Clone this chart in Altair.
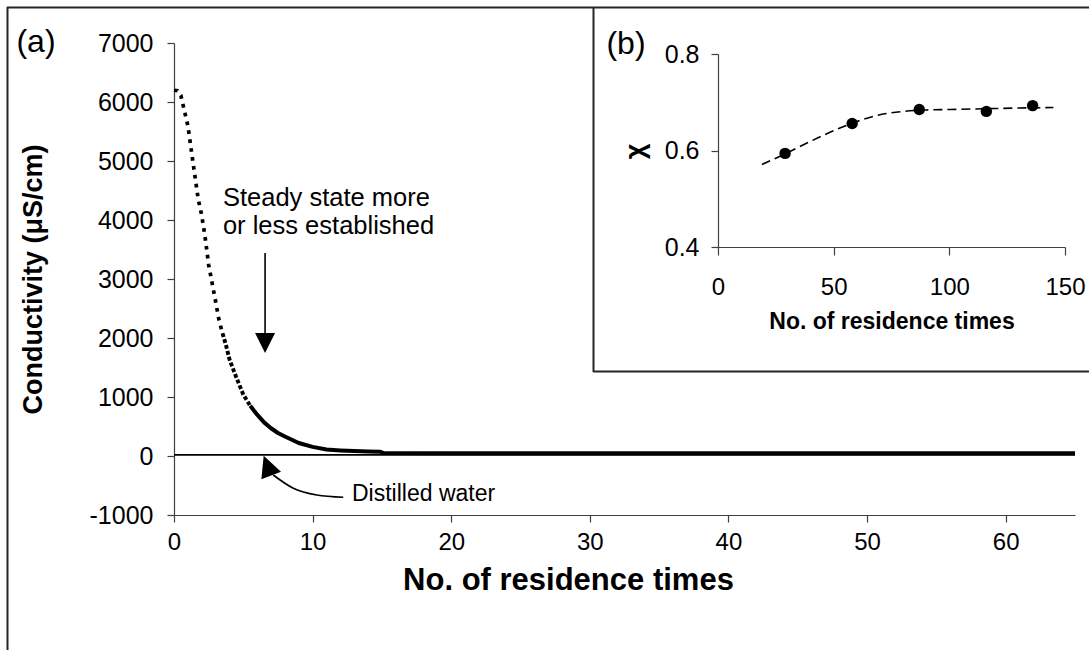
import altair as alt
import pandas as pd

FONT = "Liberation Sans"
INK = "black"
AXIS_GREY = "#404040"

# ---- panel (a): conductivity trace against the number of residence times ----
res_times = [0, 0.25, 0.5, 0.75, 1.0, 1.25, 1.5, 1.75, 2.0, 2.25,
             2.5, 2.75, 3.0, 3.25, 3.5, 3.75, 4.0, 4.5,
             5.0, 5.5, 6.0, 6.5, 7.0, 7.5, 8.0, 9.0, 10.0, 11.0,
             12.0, 13.0, 14.0, 14.9, 15.1,
             20, 30, 40, 50, 60, 65]
conductivity = [6200, 6190, 6110, 5850, 5600, 5180, 4760, 4350, 4080, 3700,
                3240, 2930, 2620, 2300, 2080, 1880, 1640, 1330,
                1040, 850, 700, 570, 470, 390, 330, 220, 155, 110,
                95, 85, 78, 73, 50,
                48, 47, 46, 46, 45, 45]
# on the steep drop the logged samples are far apart and read as dots;
# they crowd together as the decay flattens and finally merge into a line
SPARSE_UNTIL = 3.5
CROWDED_UNTIL = 5.5

# distilled-water reference level
water_times = [0, 65]
water_cond = [20, 20]

x_ticks_a = [0, 10, 20, 30, 40, 50, 60]
y_ticks_a = [-1000, 0, 1000, 2000, 3000, 4000, 5000, 6000, 7000]

# annotations (positions in data units)
steady_lines = ["Steady state more", "or less established"]
steady_pos = (3.53, 4237)
steady_arrow = (6.57, 3440, 2085)        # t, top, bottom
steady_head = (6.57, 1915)
water_label = "Distilled water"
water_label_pos = (12.84, -640)
water_curve_t = [7.16, 8.61, 10.30, 12.21]
water_curve_c = [-322, -547, -661, -700]
water_head = (6.74, -163)

# ---- panel (b): chi against the number of residence times ----
chi_times = [29, 58, 87, 116, 136]
chi_values = [0.594, 0.656, 0.685, 0.681, 0.693]
fit_times = [19, 29, 40, 50, 60, 70, 80, 90, 100, 110, 120, 130, 145]
fit_values = [0.571, 0.593, 0.619, 0.641, 0.660, 0.674, 0.681, 0.684,
              0.685, 0.686, 0.687, 0.688, 0.689]

# ---------------------------------------------------------------------------
W, H = 901, 472

trace = pd.DataFrame({"t": res_times, "c": conductivity})
sparse = trace[trace.t <= SPARSE_UNTIL]
crowded = trace[(trace.t >= SPARSE_UNTIL) & (trace.t <= CROWDED_UNTIL)]
merged = trace[trace.t >= CROWDED_UNTIL]

x_a = alt.X(
    "t:Q",
    scale=alt.Scale(domain=[0, 65], nice=False, zero=False),
    axis=alt.Axis(
        values=x_ticks_a, title="No. of residence times", labelFlush=False,
        labelFontSize=24, titleFontSize=31, titleFontWeight="bold",
        tickSize=7, labelPadding=8, titleX=394, titleY=50, titleBaseline="top",
    ),
)
y_a = alt.Y(
    "c:Q",
    scale=alt.Scale(domain=[-1000, 7000], nice=False, zero=False),
    axis=alt.Axis(
        values=y_ticks_a, title="Conductivity (μS/cm)",
        labelExpr="datum.value < 0 ? '-' + toString(abs(datum.value)) : toString(datum.value)",
        labelFontSize=25, titleFontSize=27, titleFontWeight="bold",
        tickSize=7, labelPadding=14, labelFlush=False,
        titleAngle=270, titleX=-141, titleY=H / 2,
        titleAlign="center", titleBaseline="middle",
    ),
)

water = alt.Chart(pd.DataFrame({"t": water_times, "c": water_cond})).mark_line(
    color=INK, strokeWidth=1.8
).encode(x=x_a, y=y_a)

trace_sparse = alt.Chart(sparse).mark_line(
    color=INK, strokeWidth=3.7, strokeDash=[3.7, 5.3], strokeCap="butt"
).encode(x=x_a, y=y_a)

trace_crowded = alt.Chart(crowded).mark_line(
    color=INK, strokeWidth=3.9, strokeDash=[3.9, 2.2], strokeCap="butt"
).encode(x=x_a, y=y_a)

trace_merged = alt.Chart(merged).mark_line(
    color=INK, strokeWidth=4, strokeJoin="round"
).encode(x=x_a, y=y_a)

steady_txt = alt.Chart(
    pd.DataFrame({"t": [steady_pos[0]], "c": [steady_pos[1]], "s": ["\n".join(steady_lines)]})
).mark_text(
    align="left", baseline="alphabetic", font=FONT, fontSize=25.5, lineHeight=28,
    lineBreak="\n", color=INK
).encode(x=x_a, y=y_a, text="s:N")

steady_line = alt.Chart(
    pd.DataFrame({"t": [steady_arrow[0]], "c": [steady_arrow[1]], "c2": [steady_arrow[2]]})
).mark_rule(color=INK, strokeWidth=1.6).encode(x=x_a, y=y_a, y2="c2:Q")

steady_tip = alt.Chart(
    pd.DataFrame({"t": [steady_head[0]], "c": [steady_head[1]]})
).mark_point(
    shape="M-1,-1L1,-1L0,1Z", filled=True, size=400, color=INK, opacity=1
).encode(x=x_a, y=y_a)

water_txt = alt.Chart(
    pd.DataFrame({"t": [water_label_pos[0]], "c": [water_label_pos[1]], "s": [water_label]})
).mark_text(
    align="left", baseline="middle", font=FONT, fontSize=23, color=INK
).encode(x=x_a, y=y_a, text="s:N")

water_curve = alt.Chart(
    pd.DataFrame({"t": water_curve_t, "c": water_curve_c})
).mark_line(color=INK, strokeWidth=1.6, interpolate="monotone").encode(x=x_a, y=y_a)

water_tip = alt.Chart(
    pd.DataFrame({"t": [water_head[0]], "c": [water_head[1]]})
).mark_point(
    shape="M0,-1L1,1L-1,1Z", filled=True, size=441, angle=339, color=INK, opacity=1
).encode(x=x_a, y=y_a)

# figure frame and the inset's box, in pixels of the plot area
one_row = alt.Data(values=[{}])
FRAME = "#262626"
frame_left = alt.Chart(one_row).mark_rule(color=FRAME, strokeWidth=2).encode(
    x=alt.value(-166.5), y=alt.value(-36), y2=alt.value(620))
frame_top = alt.Chart(one_row).mark_rule(color=FRAME, strokeWidth=2).encode(
    x=alt.value(-167), x2=alt.value(940), y=alt.value(-35.5))
inset_left = alt.Chart(one_row).mark_rule(color=FRAME, strokeWidth=2).encode(
    x=alt.value(419.5), y=alt.value(-36), y2=alt.value(329))
inset_bottom = alt.Chart(one_row).mark_rule(color=FRAME, strokeWidth=2).encode(
    x=alt.value(419), x2=alt.value(940), y=alt.value(328.5))

label_a = alt.Chart(one_row).mark_text(
    font=FONT, fontSize=32, align="center", baseline="middle", color=INK
).encode(x=alt.value(-138), y=alt.value(-1), text=alt.value("(a)"))
label_b = alt.Chart(one_row).mark_text(
    font=FONT, fontSize=32, align="center", baseline="middle", color=INK
).encode(x=alt.value(452), y=alt.value(1), text=alt.value("(b)"))

panel_a = alt.layer(
    water, trace_merged, trace_crowded, trace_sparse,
    steady_txt, steady_line, steady_tip,
    water_curve, water_tip, water_txt,
    frame_left, frame_top, inset_left, inset_bottom, label_a, label_b,
)

# ---- inset ----
x_b = alt.X(
    "n:Q",
    scale=alt.Scale(domain=[0, 150], range=[544, 891], nice=False, zero=False),
    axis=alt.Axis(
        orient="bottom", offset=204 - H, values=[0, 50, 100, 150], labelFlush=False,
        title="No. of residence times", titleFontSize=23, titleFontWeight="bold",
        titleY=63, titleBaseline="top",
        labelFontSize=24, tickSize=8, labelPadding=20,
    ),
)
y_b = alt.Y(
    "chi:Q",
    scale=alt.Scale(domain=[0.4, 0.8], range=[204, 11], nice=False, zero=False),
    axis=alt.Axis(
        orient="left", offset=-544, values=[0.4, 0.6, 0.8], format=".1f",
        title="χ", titleFontSize=27, titleFontWeight="bold", labelFlush=False,
        titleAngle=270, titleX=-83, titleY=108,
        titleAlign="center", titleBaseline="middle",
        labelFontSize=25, tickSize=7, labelPadding=12,
    ),
)

fit = alt.Chart(pd.DataFrame({"n": fit_times, "chi": fit_values})).mark_line(
    color=INK, strokeWidth=1.6, strokeDash=[9, 5], interpolate="monotone"
).encode(x=x_b, y=y_b)

pts = alt.Chart(pd.DataFrame({"n": chi_times, "chi": chi_values})).mark_circle(
    color=INK, size=130, opacity=1
).encode(x=x_b, y=y_b)

panel_b = alt.layer(fit, pts)

chart = alt.layer(panel_a, panel_b).resolve_scale(
    x="independent", y="independent"
).properties(
    width=W, height=H,
    autosize=alt.AutoSizeParams(type="none"),
    padding={"left": 174, "top": 43, "right": 14, "bottom": 135},
    background="white",
).configure_axis(
    labelFont=FONT, titleFont=FONT, labelColor=INK, titleColor=INK,
    domainColor=AXIS_GREY, tickColor=AXIS_GREY, domainWidth=1.2, tickWidth=1.2,
    grid=False,
).configure_view(stroke=None)

chart.save("out.html", embed_options={"renderer": "svg", "actions": False})
